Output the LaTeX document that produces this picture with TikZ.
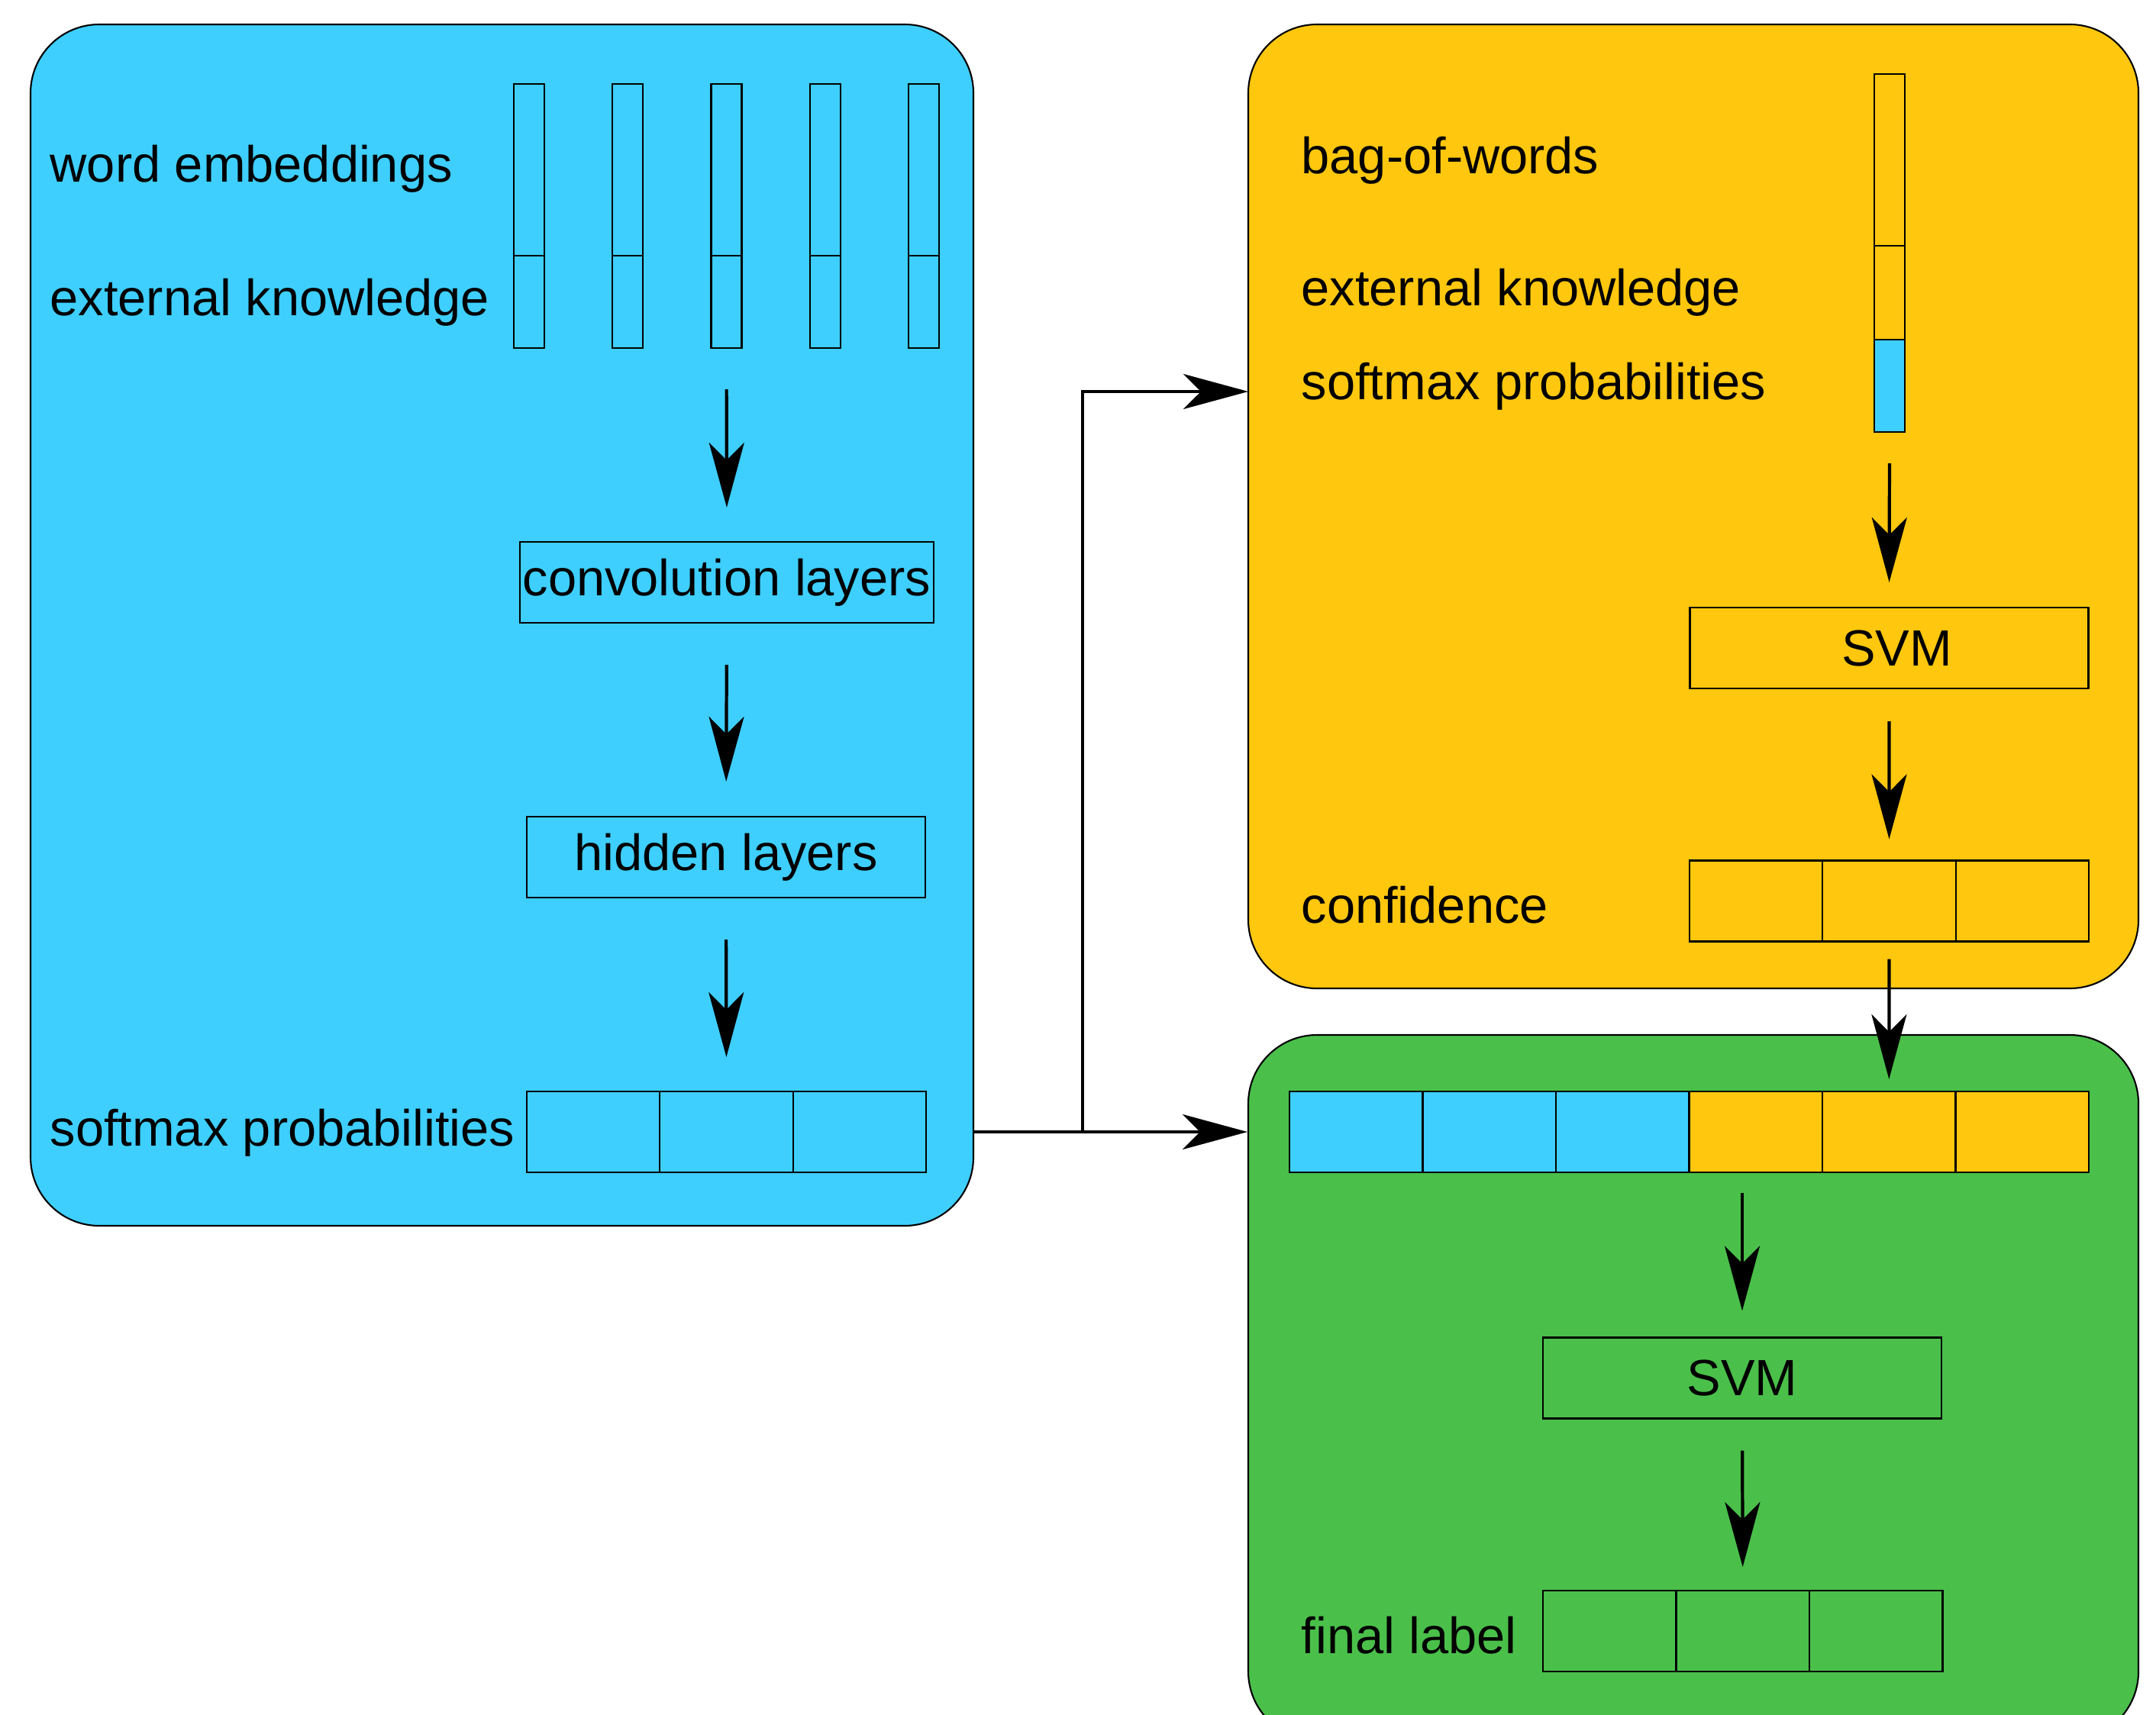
\documentclass[tikz,border=0pt]{standalone}
\usepackage{fontspec}
\setmainfont{Liberation Sans}
\usepackage{tikz}
\usetikzlibrary{arrows.meta,positioning}
\definecolor{cnnblue}{RGB}{62,207,255}
\definecolor{svmyellow}{RGB}{255,199,14}
\definecolor{metagreen}{RGB}{74,192,74}

\begin{document}
\begin{tikzpicture}[every node/.style={font=\fontsize{19}{22}\selectfont}, panel/.style={draw,line width=0.6pt,rounded corners=9mm,inner sep=0pt}, box/.style={draw,line width=0.6pt,minimum width=5.22cm,minimum height=1.06cm,inner sep=0pt}, cell/.style={draw,line width=0.6pt,minimum width=1.745cm,minimum height=1.06cm,inner sep=0pt,outer sep=0pt}, bar/.style={draw,line width=0.6pt,minimum width=0.4cm,inner sep=0pt,outer sep=0pt}, lbl/.style={anchor=west,inner sep=0pt,yshift=-0.5mm}, arr/.style={-{Stealth[length=8.5mm,width=4.6mm,inset=2.3mm]},line width=1.2pt}]
\useasboundingbox (0,0) rectangle (28.24,-22.46);
% panels
\node[panel,fill=cnnblue,minimum width=12.35cm,minimum height=15.74cm] (cnn) at (6.575,-8.19) {};
\node[panel,fill=svmyellow,minimum width=11.66cm,minimum height=12.63cm] (yel) at (22.18,-6.635) {};
\node[panel,fill=metagreen,minimum width=11.66cm,minimum height=9.24cm] (grn) at (22.18,-18.18) {};
% CNN
\foreach \i in {1,...,5} {
  \node[bar,fill=cnnblue,minimum height=2.25cm] (we\i) at ({6.93+1.2925*(\i-1)},-2.225) {};
  \node[bar,fill=cnnblue,minimum height=1.21cm,below=0pt of we\i] (ek\i) {};
}
\node[lbl] (lwe) at (0.65,-2.16) {word embeddings};
\node[lbl] (lek) at (0.65,-3.91) {external knowledge};
\node[box,fill=cnnblue,minimum width=5.42cm] (conv) at (9.52,-7.63) {convolution layers};
\node[box,fill=cnnblue] (hid) at (9.51,-11.23) {hidden layers};
\node[cell,fill=cnnblue] (sm1) at (7.77,-14.83) {};
\node[cell,fill=cnnblue,right=0pt of sm1] (sm2) {};
\node[cell,fill=cnnblue,right=0pt of sm2] (sm3) {};
\node[lbl] (lsm) at (0.65,-14.79) {softmax probabilities};
\draw[arr,shorten <=5.4mm,shorten >=4.4mm] (ek3.south) -- (conv.north);
\draw[arr,shorten <=5.4mm,shorten >=4.5mm] (conv.south) -- (hid.north);
\draw[arr,shorten <=5.4mm,shorten >=4.5mm] (hid.south) -- (sm2.north);
% SVM on bag-of-words
\node[bar,fill=svmyellow,minimum height=2.25cm] (bow) at (24.75,-2.095) {};
\node[bar,fill=svmyellow,minimum height=1.23cm,below=0pt of bow] (yek) {};
\node[bar,fill=cnnblue,minimum height=1.21cm,below=0pt of yek] (ysm) {};
\node[lbl] (lbow) at (17.04,-2.05) {bag-of-words};
\node[lbl] (lyek) at (17.04,-3.78) {external knowledge};
\node[lbl] (lysm) at (17.04,-5.01) {softmax probabilities};
\node[box,fill=svmyellow] (ysvm) at (24.745,-8.49) {\hspace{2mm}SVM};
\node[cell,fill=svmyellow] (cf1) at (23.0,-11.805) {};
\node[cell,fill=svmyellow,right=0pt of cf1] (cf2) {};
\node[cell,fill=svmyellow,right=0pt of cf2] (cf3) {};
\node[lbl] (lcf) at (17.04,-11.81) {confidence};
\draw[arr,shorten <=4.1mm,shorten >=3.2mm] (ysm.south) -- (ysvm.north);
\draw[arr,shorten <=4.2mm,shorten >=2.8mm] (ysvm.south) -- (cf2.north);
% meta SVM
\node[cell,fill=cnnblue] (cat1) at (17.7625,-14.83) {};
\node[cell,fill=cnnblue,right=0pt of cat1] (cat2) {};
\node[cell,fill=cnnblue,right=0pt of cat2] (cat3) {};
\node[cell,fill=svmyellow,right=0pt of cat3] (cat4) {};
\node[cell,fill=svmyellow,right=0pt of cat4] (cat5) {};
\node[cell,fill=svmyellow,right=0pt of cat5] (cat6) {};
\node[box,fill=metagreen] (gsvm) at (22.82,-18.055) {SVM};
\node[cell,fill=metagreen] (fl1) at (21.0825,-21.37) {};
\node[cell,fill=metagreen,right=0pt of fl1] (fl2) {};
\node[cell,fill=metagreen,right=0pt of fl2] (fl3) {};
\node[lbl] (lfl) at (17.04,-21.38) {final label};
\draw[arr,shorten <=2.3mm,shorten >=1.6mm] (cf2.south) -- (cat5.north);
\draw[arr,shorten <=2.7mm,shorten >=3.4mm] (cat3.south -| gsvm.north) -- (gsvm.north);
\draw[arr,shorten <=4.1mm,shorten >=3.1mm] (gsvm.south) -- (fl2.north);
% CNN output to both SVMs
\coordinate (split) at (14.18,-14.83);
\coordinate (yin) at (16.35,-5.13);
\draw[line width=1.2pt] (sm3 -| cnn.east) -- (split);
\draw[arr] (split) |- (yin);
\draw[arr] (split) -- (split -| grn.west);
\end{tikzpicture}
\end{document}
